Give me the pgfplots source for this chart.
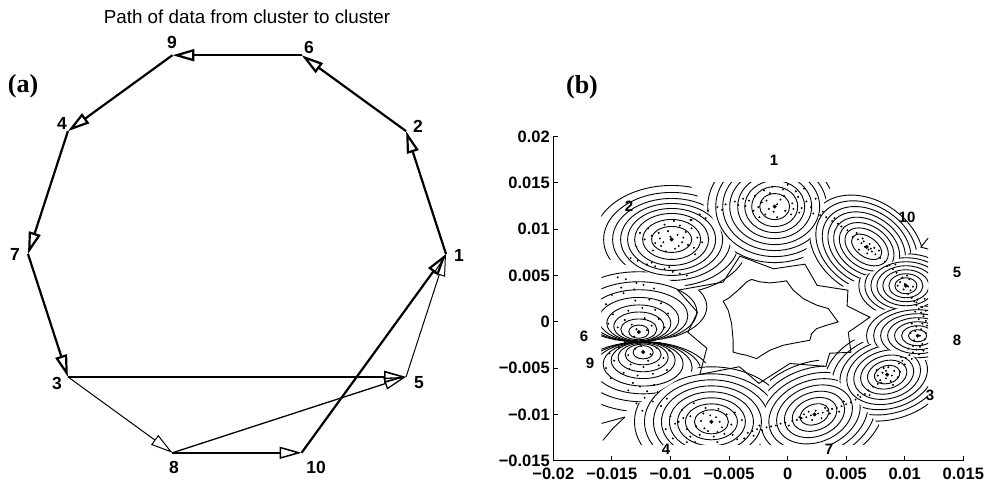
\documentclass[border=0pt]{standalone}
\usepackage{fontspec}
\setmainfont{Liberation Sans}
\newfontfamily\serifb{Liberation Serif}
\usepackage{pgfplots}
\pgfplotsset{compat=1.18}
\usetikzlibrary{arrows.meta}
\newcommand{\E}[5]{\draw[rotate around={#5:(axis cs:#1,#2)}] (axis cs:#1,#2) ellipse [x radius=#3pt, y radius=#4pt];}
\tikzset{arr/.style={-{Triangle[open,length=22pt,width=12pt]}}}
\begin{document}
\begin{tikzpicture}[x=1pt,y=1pt]
\path[use as bounding box] (0,0) rectangle (995,487);
\node[font=\fontsize{18.8}{21}\selectfont] at (247,470) {Path of data from cluster to cluster};
\node[font=\serifb\bfseries\fontsize{26}{29}\selectfont] at (23,401) {(a)};
\node[font=\serifb\bfseries\fontsize{26}{29}\selectfont] at (582,400) {(b)};
% ---------------- panel (a)
\begin{axis}[at={(28pt,24pt)}, anchor=south west, scale only axis, width=418pt, height=418pt,
  xmin=-1, xmax=1, ymin=-1, ymax=1, axis lines=none, clip=false]
\addplot[black, line width=2.2pt, arr] coordinates {(1,0) (0.809,0.5878)};
\addplot[black, line width=2.2pt, arr] coordinates {(0.809,0.5878) (0.309,0.9511)};
\addplot[black, line width=2.2pt, arr] coordinates {(0.309,0.9511) (-0.309,0.9511)};
\addplot[black, line width=2.2pt, arr] coordinates {(-0.309,0.9511) (-0.809,0.5878)};
\addplot[black, line width=2.2pt, arr] coordinates {(-0.809,0.5878) (-1,0)};
\addplot[black, line width=2.2pt, arr] coordinates {(-1,0) (-0.809,-0.5878)};
\addplot[black, line width=1.6pt, arr] coordinates {(-0.809,-0.5878) (0.809,-0.5878)};
\addplot[black, line width=1pt, arr] coordinates {(-0.809,-0.5878) (-0.309,-0.9511)};
\addplot[black, line width=1.5pt, arr] coordinates {(-0.309,-0.9511) (0.309,-0.9511)};
\addplot[black, line width=1.3pt, arr] coordinates {(-0.309,-0.9511) (0.809,-0.5878)};
\addplot[black, line width=2.2pt, arr] coordinates {(0.309,-0.9511) (1,0)};
\addplot[black, line width=1pt, arr] coordinates {(0.809,-0.5878) (1,0)};
\end{axis}
\begin{scope}[every node/.style={font=\bfseries\fontsize{17.5}{19}\selectfont}]
\node at (459,232) {1};
\node at (418,361) {2};
\node at (309,440) {6};
\node at (172,445) {9};
\node at (62,364) {4};
\node at (15,233) {7};
\node at (57,104) {3};
\node at (419,104) {5};
\node at (174,20) {8};
\node at (316,20) {10};
\end{scope}
% ---------------- panel (b)
\begin{axis}[at={(553.3pt,26.3pt)}, anchor=south west, scale only axis, width=410pt, height=324pt,
  xmin=-0.02, xmax=0.015, ymin=-0.015, ymax=0.02,
  axis x line*=bottom, axis y line*=left, tick align=inside, major tick length=5pt,
  axis line style={line width=1pt}, every tick/.style={black, line width=1pt},
  xtick={-0.02,-0.015,-0.01,-0.005,0,0.005,0.01,0.015},
  xticklabels={−0.02,−0.015,−0.01,−0.005,0,0.005,0.01,0.015},
  ytick={-0.015,-0.01,-0.005,0,0.005,0.01,0.015,0.02},
  yticklabels={−0.015,−0.01,−0.005,0,0.005,0.01,0.015,0.02},
  ticklabel style={font=\bfseries\fontsize{16.5}{18}\selectfont},
  xticklabel style={yshift=-4pt},
  scaled ticks=false]
\begin{scope}[line width=0.9pt]
\clip (axis cs:-0.0159,-0.0132) rectangle (axis cs:0.0120,0.0150);
% cluster 1
\begin{scope}\clip (axis cs:-0.00066,0.00039) -- (axis cs:-0.02454,0.04521) -- (axis cs:0.01466,0.05081) -- cycle;
\E{-0.0011}{0.01245}{15}{13}{0}\E{-0.0011}{0.01245}{23}{20}{0}\E{-0.0011}{0.01245}{30}{26}{0}\E{-0.0011}{0.01245}{37}{32}{0}
\E{-0.0011}{0.01245}{45}{38}{0}\E{-0.0011}{0.01245}{52}{44}{0}\E{-0.0011}{0.01245}{59}{50}{0}\E{-0.0011}{0.01245}{67}{56}{0}
\end{scope}
% cluster 10
\begin{scope}\clip (axis cs:-0.00066,0.00039) -- (axis cs:0.01466,0.05081) -- (axis cs:0.03746,0.02461) -- cycle;
\E{0.00675}{0.0081}{17}{10}{-35}\E{0.00675}{0.0081}{24}{16}{-35}\E{0.00675}{0.0081}{30}{21}{-35}\E{0.00675}{0.0081}{36}{26}{-35}
\E{0.00675}{0.0081}{42}{31}{-35}\E{0.00675}{0.0081}{48}{36}{-35}\E{0.00675}{0.0081}{55}{41}{-35}\E{0.00675}{0.0081}{62}{46}{-35}
\end{scope}
% cluster 5
\begin{scope}\clip (axis cs:-0.00066,0.00039) -- (axis cs:0.03746,0.02461) -- (axis cs:0.04186,0.00481) -- cycle;
\E{0.0101}{0.0039}{11}{8}{0}\E{0.0101}{0.0039}{17}{12}{0}\E{0.0101}{0.0039}{23}{16}{0}\E{0.0101}{0.0039}{29}{20}{0}
\E{0.0101}{0.0039}{35}{24}{0}\E{0.0101}{0.0039}{41}{28}{0}\E{0.0101}{0.0039}{47}{32}{0}
\end{scope}
% cluster 8
\begin{scope}\clip (axis cs:-0.00066,0.00039) -- (axis cs:0.04186,0.00481) -- (axis cs:0.04046,-0.01459) -- cycle;
\E{0.0111}{-0.0015}{9}{6}{0}\E{0.0111}{-0.0015}{16}{10}{0}\E{0.0111}{-0.0015}{23}{14}{0}\E{0.0111}{-0.0015}{30}{18}{0}
\E{0.0111}{-0.0015}{37}{22}{0}\E{0.0111}{-0.0015}{44}{26}{0}\E{0.0111}{-0.0015}{51}{30}{0}
\end{scope}
% cluster 3
\begin{scope}\clip (axis cs:-0.00066,0.00039) -- (axis cs:0.04046,-0.01459) -- (axis cs:0.02846,-0.03919) -- cycle;
\E{0.0085}{-0.0057}{13}{9}{15}\E{0.0085}{-0.0057}{20}{14}{15}\E{0.0085}{-0.0057}{27}{19}{15}\E{0.0085}{-0.0057}{34}{24}{15}
\E{0.0085}{-0.0057}{41}{29}{15}\E{0.0085}{-0.0057}{48}{34}{15}\E{0.0085}{-0.0057}{56}{39}{15}\E{0.0085}{-0.0057}{64}{45}{15}
\end{scope}
% cluster 7
\begin{scope}\clip (axis cs:-0.00066,0.00039) -- (axis cs:0.02846,-0.03919) -- (axis cs:-0.00734,-0.05299) -- cycle;
\E{0.0023}{-0.0100}{15}{10}{20}\E{0.0023}{-0.0100}{23}{16}{20}\E{0.0023}{-0.0100}{31}{22}{20}\E{0.0023}{-0.0100}{39}{28}{20}
\E{0.0023}{-0.0100}{47}{34}{20}\E{0.0023}{-0.0100}{55}{40}{20}\E{0.0023}{-0.0100}{63}{46}{20}\E{0.0023}{-0.0100}{72}{52}{20}
\end{scope}
% cluster 4
\begin{scope}\clip (axis cs:-0.00066,0.00039) -- (axis cs:-0.00734,-0.05299) -- (axis cs:-0.03734,-0.02759) -- cycle;
\E{-0.0065}{-0.0108}{17}{12}{0}\E{-0.0065}{-0.0108}{26}{18}{0}\E{-0.0065}{-0.0108}{34}{24}{0}\E{-0.0065}{-0.0108}{42}{30}{0}
\E{-0.0065}{-0.0108}{50}{36}{0}\E{-0.0065}{-0.0108}{58}{42}{0}\E{-0.0065}{-0.0108}{67}{48}{0}\E{-0.0065}{-0.0108}{77}{55}{0}
\end{scope}
% cluster 9
\begin{scope}\clip (axis cs:-0.00066,0.00039) -- (axis cs:-0.03734,-0.02759) -- (axis cs:-0.04,-0.00218) -- (axis cs:-0.0121,-0.00218) -- cycle;
\E{-0.01233}{-0.00329}{10}{6.6}{0}\E{-0.01233}{-0.00352}{18}{10.4}{0}\E{-0.01233}{-0.00384}{25}{14.4}{0}\E{-0.01233}{-0.00416}{32}{18.2}{0}
\E{-0.01233}{-0.00456}{40}{22}{0}\E{-0.01233}{-0.00497}{49}{26}{0}\E{-0.01233}{-0.00540}{58}{30}{0}\E{-0.01233}{-0.00594}{68}{35}{0}
\end{scope}
% cluster 6
\begin{scope}\clip (axis cs:-0.00066,0.00039) -- (axis cs:-0.0121,-0.00218) -- (axis cs:-0.04,-0.00218) -- (axis cs:-0.04094,0.01801) -- cycle;
\E{-0.0127}{-0.00106}{10}{6.6}{0}\E{-0.0127}{-0.00081}{18}{10.4}{0}\E{-0.0127}{-0.00049}{25}{14.4}{0}\E{-0.0127}{-0.00014}{32}{18.2}{0}
\E{-0.0127}{0.00026}{40}{22}{0}\E{-0.0127}{0.00066}{49}{26}{0}\E{-0.0127}{0.00109}{58}{30}{0}\E{-0.0127}{0.00163}{68}{35}{0}
\end{scope}
% cluster 2
\begin{scope}\clip (axis cs:-0.00066,0.00039) -- (axis cs:-0.04094,0.01801) -- (axis cs:-0.02454,0.04521) -- cycle;
\E{-0.0099}{0.0089}{20}{13}{0}\E{-0.0099}{0.0089}{29}{20}{0}\E{-0.0099}{0.0089}{37}{26}{0}\E{-0.0099}{0.0089}{44}{31}{0}
\E{-0.0099}{0.0089}{51}{36}{0}\E{-0.0099}{0.0089}{59}{41}{0}\E{-0.0099}{0.0089}{68}{47}{0}\E{-0.0099}{0.0089}{78}{54}{0}
\end{scope}
\end{scope}
% central contours
\addplot[black, line width=0.9pt, mark=none] coordinates {
(-0.00550,0.00223) (-0.00507,0.00252) (-0.00422,0.00342) (-0.00350,0.00432) (-0.00307,0.00458)
(-0.00237,0.00432) (-0.00151,0.00421) (-0.00066,0.00432) (-0.00009,0.00443) (0.00048,0.00342)
(0.00133,0.00252) (0.00248,0.00180) (0.00347,0.00144) (0.00389,0.00071) (0.00432,-0.00001)
(0.00333,-0.00037) (0.00248,-0.00073) (0.00205,-0.00127) (0.00190,-0.00199) (0.00105,-0.00218)
(-0.00038,-0.00253) (-0.00151,-0.00307) (-0.00222,-0.00361) (-0.00265,-0.00397) (-0.00350,-0.00361)
(-0.00422,-0.00343) (-0.00465,-0.00326) (-0.00465,-0.00199) (-0.00478,-0.00018) (-0.00507,0.00126)
(-0.00550,0.00223)};
\addplot[black, line width=0.9pt, mark=none] coordinates {
(-0.00407,0.00710) (-0.00120,0.00573) (0.00148,0.00623) (0.00252,0.00394) (0.00515,0.00342)
(0.00508,0.00172) (0.00703,0.00050) (0.00518,-0.00113) (0.00541,-0.00329) (0.00359,-0.00339)
(0.00327,-0.00481) (0.00020,-0.00450) (-0.00245,-0.00665) (-0.00411,-0.00485) (-0.00749,-0.00567)
(-0.00690,-0.00284) (-0.00851,-0.00113) (-0.00769,0.00104) (-0.00937,0.00342) (-0.00551,0.00429)
(-0.00407,0.00710)};
\addplot[black, line width=0.9pt, mark=none] coordinates {(-0.01588,-0.01097) (-0.01389,-0.01029)};
\addplot[black, line width=0.9pt, mark=none] coordinates {(-0.01577,-0.01281) (-0.01492,-0.01152) (-0.01389,-0.01029)};
\addplot[black, line width=0.9pt, mark=none] coordinates {(0.0120,0.00905) (0.01138,0.00807) (0.0120,0.00786)};
% scattered data
\addplot[only marks, mark=*, mark size=0.75pt, black] coordinates {
(-2.8e-3,13.6e-3) (-2.2e-3,12.9e-3) (-1.9e-3,11.6e-3) (-1.5e-3,13.9e-3) (-0.6e-3,13.2e-3) (-0.2e-3,12.0e-3)
(0.4e-3,12.8e-3) (0.9e-3,13.5e-3) (1.2e-3,12.3e-3) (-0.9e-3,11.3e-3) (-1.6e-3,12.2e-3) (-2.5e-3,12.4e-3)
(0.3e-3,11.6e-3) (1.6e-3,13.0e-3) (-0.4e-3,14.3e-3) (-1.3e-3,14.6e-3) (2.0e-3,12.4e-3) (-2.9e-3,12.0e-3)
(0.7e-3,14.1e-3) (-3.3e-3,13.1e-3)
(-1.8e-3,13.1e-3) (-0.9e-3,12.7e-3) (-0.3e-3,13.6e-3) (0.5e-3,12.2e-3) (-2.4e-3,11.3e-3) (-1.2e-3,11.9e-3)
(1.0e-3,11.8e-3) (-3.6e-3,12.5e-3) (0.0e-3,14.8e-3) (-2.0e-3,14.2e-3) (1.4e-3,14.4e-3) (2.4e-3,13.3e-3)
(2.2e-3,11.7e-3) (2.8e-3,11.5e-3) (3.3e-3,11.3e-3) (3.8e-3,10.9e-3) (4.3e-3,10.6e-3) (4.6e-3,10.3e-3)
(5.1e-3,9.9e-3) (3.0e-3,11.9e-3) (4.0e-3,11.2e-3)
(-8.2e-3,11.0e-3) (-7.5e-3,11.6e-3) (-6.8e-3,12.0e-3) (-6.0e-3,12.4e-3) (-5.3e-3,12.7e-3) (-4.5e-3,13.0e-3)
(-3.8e-3,13.3e-3) (-7.0e-3,11.2e-3) (-5.6e-3,12.1e-3) (-4.2e-3,12.6e-3)
(-11.6e-3,9.3e-3) (-11.0e-3,9.6e-3) (-10.6e-3,8.6e-3) (-10.2e-3,9.8e-3) (-9.4e-3,9.4e-3) (-9.0e-3,8.6e-3)
(-8.5e-3,8.3e-3) (-8.0e-3,8.0e-3) (-8.7e-3,9.7e-3) (-10.8e-3,8.2e-3) (-9.6e-3,7.9e-3) (-11.3e-3,8.5e-3)
(-9.2e-3,10.4e-3) (-10.5e-3,10.5e-3) (-8.2e-3,10.1e-3) (-7.7e-3,9.1e-3) (-12.2e-3,8.9e-3) (-11.9e-3,10.1e-3)
(-10.9e-3,9.0e-3) (-10.0e-3,9.2e-3) (-9.3e-3,8.2e-3) (-8.9e-3,9.1e-3) (-10.4e-3,7.6e-3) (-11.5e-3,7.7e-3)
(-12.6e-3,9.6e-3) (-9.7e-3,10.9e-3) (-8.3e-3,11.0e-3) (-7.3e-3,8.6e-3) (-7.9e-3,7.3e-3) (-12.9e-3,8.1e-3)
(-12.8e-3,6.6e-3) (-12.0e-3,6.2e-3) (-11.3e-3,6.0e-3) (-10.5e-3,5.7e-3) (-9.8e-3,5.4e-3) (-9.2e-3,5.2e-3)
(-13.4e-3,6.9e-3) (-11.6e-3,6.4e-3) (-10.1e-3,5.9e-3) (-8.6e-3,5.0e-3) (-14.5e-3,4.8e-3) (-13.8e-3,4.6e-3)
(-12.9e-3,4.2e-3) (-14.2e-3,3.7e-3) (-13.1e-3,3.5e-3) (-12.3e-3,4.0e-3) (-11.4e-3,3.6e-3)
(-14.5e-3,-0.6e-3) (-13.9e-3,0.2e-3) (-13.3e-3,-0.3e-3) (-12.2e-3,0.4e-3) (-11.6e-3,-0.4e-3) (-11.0e-3,0.3e-3)
(-14.9e-3,0.8e-3) (-13.6e-3,1.2e-3) (-12.4e-3,1.5e-3) (-11.3e-3,1.3e-3) (-10.5e-3,-0.6e-3) (-15.3e-3,-0.2e-3)
(-12.9e-3,-0.8e-3) (-12.0e-3,-0.9e-3) (-14.1e-3,-1.3e-3) (-10.2e-3,0.9e-3) (-15.5e-3,1.9e-3) (-13.0e-3,2.3e-3)
(-11.8e-3,2.4e-3) (-10.8e-3,2.0e-3)
(-14.7e-3,-1.9e-3) (-13.1e-3,-1.6e-3) (-11.4e-3,-1.7e-3) (-12.6e-3,-2.4e-3) (-13.9e-3,-2.2e-3) (-10.9e-3,-2.3e-3)
(-15.0e-3,2.9e-3) (-14.0e-3,3.1e-3) (-13.5e-3,-5.1e-3) (-11.9e-3,-4.2e-3) (-15.5e-3,-5.0e-3) (-15.1e-3,-6.1e-3)
(-14.4e-3,-2.8e-3) (-13.6e-3,-3.6e-3) (-13.0e-3,-2.9e-3) (-11.7e-3,-3.5e-3) (-11.2e-3,-2.8e-3) (-10.6e-3,-3.9e-3)
(-14.8e-3,-4.2e-3) (-13.4e-3,-4.6e-3) (-12.3e-3,-4.9e-3) (-11.0e-3,-4.7e-3) (-10.1e-3,-3.1e-3) (-15.2e-3,-3.4e-3)
(-12.5e-3,-2.6e-3) (-14.0e-3,-5.5e-3) (-12.8e-3,-5.8e-3) (-11.5e-3,-5.6e-3) (-10.3e-3,-5.2e-3)
(-13.2e-3,-6.6e-3) (-12.6e-3,-7.0e-3) (-12.0e-3,-7.5e-3) (-11.4e-3,-6.8e-3) (-13.6e-3,-7.4e-3) (-12.2e-3,-8.2e-3)
(-11.5e-3,-8.6e-3) (-10.8e-3,-9.1e-3) (-12.9e-3,-8.8e-3) (-12.4e-3,-9.6e-3) (-11.1e-3,-7.6e-3) (-10.3e-3,-8.3e-3)
(-10.0e-3,-10.2e-3) (-9.6e-3,-11.0e-3) (-10.4e-3,-11.6e-3) (-9.8e-3,-12.6e-3) (-8.6e-3,-13.0e-3)
(-8.3e-3,-10.2e-3) (-7.8e-3,-11.3e-3) (-7.2e-3,-9.9e-3) (-6.8e-3,-11.8e-3) (-6.1e-3,-10.3e-3) (-5.6e-3,-11.4e-3)
(-5.2e-3,-10.0e-3) (-4.8e-3,-11.1e-3) (-7.5e-3,-12.2e-3) (-6.3e-3,-12.4e-3) (-5.4e-3,-12.1e-3) (-8.6e-3,-11.6e-3)
(-7.0e-3,-9.3e-3) (-5.9e-3,-9.4e-3) (-4.5e-3,-9.8e-3) (-9.3e-3,-10.8e-3) (-9.0e-3,-9.5e-3) (-8.0e-3,-8.8e-3)
(-7.9e-3,-13.0e-3) (-6.0e-3,-13.0e-3) (-4.3e-3,-12.7e-3) (-3.9e-3,-10.6e-3)
(-7.4e-3,-10.7e-3) (-6.6e-3,-10.1e-3) (-5.8e-3,-10.8e-3) (-7.1e-3,-11.5e-3) (-6.0e-3,-11.9e-3) (-8.9e-3,-10.4e-3)
(-4.7e-3,-12.2e-3) (-8.3e-3,-12.4e-3)
(-3.4e-3,-12.0e-3) (-3.0e-3,-11.8e-3) (-2.6e-3,-11.6e-3) (-2.2e-3,-11.7e-3) (-1.8e-3,-11.4e-3) (-1.4e-3,-11.3e-3)
(-1.0e-3,-11.2e-3) (-0.6e-3,-11.0e-3) (-0.2e-3,-10.9e-3) (-2.9e-3,-12.3e-3) (-2.4e-3,-11.2e-3) (-3.7e-3,-12.6e-3)
(0.4e-3,-10.7e-3) (0.8e-3,-10.6e-3) (1.2e-3,-10.4e-3) (1.6e-3,-10.3e-3) (2.0e-3,-10.1e-3) (2.6e-3,-9.9e-3)
(3.0e-3,-9.8e-3) (3.4e-3,-9.6e-3) (3.8e-3,-9.4e-3) (4.2e-3,-9.3e-3) (4.6e-3,-9.1e-3) (5.0e-3,-8.9e-3)
(5.4e-3,-8.7e-3) (1.8e-3,-9.7e-3) (2.9e-3,-10.4e-3) (1.4e-3,-10.0e-3) (3.2e-3,-9.3e-3) (2.1e-3,-10.6e-3)
(0.1e-3,-11.2e-3) (4.4e-3,-9.7e-3)
(1.0e-3,-10.3e-3) (2.4e-3,-9.6e-3) (3.6e-3,-9.9e-3) (4.8e-3,-8.6e-3)
(5.8e-3,-8.4e-3) (6.2e-3,-8.1e-3) (6.6e-3,-7.8e-3) (6.9e-3,-7.4e-3) (7.3e-3,-7.0e-3) (7.7e-3,-6.7e-3)
(6.0e-3,-7.9e-3) (7.0e-3,-7.9e-3)
(7.6e-3,-5.2e-3) (7.9e-3,-6.3e-3) (8.2e-3,-5.0e-3) (8.8e-3,-6.4e-3) (9.1e-3,-5.3e-3) (9.4e-3,-6.0e-3)
(7.7e-3,-5.8e-3) (8.6e-3,-4.9e-3) (9.0e-3,-6.8e-3) (8.0e-3,-6.6e-3) (9.6e-3,-5.4e-3) (8.4e-3,-6.1e-3)
(8.1e-3,-5.5e-3) (8.9e-3,-5.8e-3) (8.4e-3,-5.3e-3)
(9.5e-3,-4.5e-3) (9.8e-3,-4.2e-3) (10.1e-3,-3.9e-3) (10.4e-3,-3.6e-3) (10.7e-3,-3.3e-3) (11.0e-3,-3.0e-3)
(11.3e-3,-2.7e-3) (10.0e-3,-4.6e-3) (10.6e-3,-4.0e-3) (11.2e-3,-3.5e-3) (9.7e-3,-3.8e-3) (11.6e-3,-3.1e-3)
(10.5e-3,-1.2e-3) (10.8e-3,-2.0e-3) (11.4e-3,-0.8e-3) (11.7e-3,-1.9e-3) (11.0e-3,-0.5e-3) (11.5e-3,-2.4e-3)
(10.6e-3,-0.2e-3) (11.8e-3,-1.2e-3) (11.2e-3,0.3e-3) (11.6e-3,0.8e-3) (10.9e-3,1.1e-3) (11.4e-3,1.6e-3)
(11.0e-3,2.1e-3) (11.7e-3,2.5e-3) (10.7e-3,-2.6e-3) (11.9e-3,-0.4e-3)
(10.9e-3,-1.0e-3) (11.3e-3,-1.5e-3) (11.5e-3,-0.2e-3) (10.3e-3,-2.9e-3) (11.8e-3,0.1e-3)
(10.3e-3,3.0e-3) (10.6e-3,2.6e-3) (10.8e-3,2.2e-3) (11.0e-3,1.8e-3) (11.2e-3,1.4e-3) (11.4e-3,1.0e-3)
(11.6e-3,0.6e-3) (10.5e-3,3.4e-3) (11.1e-3,2.4e-3) (11.5e-3,1.6e-3) (11.8e-3,1.2e-3)
(9.6e-3,4.3e-3) (10.4e-3,4.6e-3) (9.9e-3,3.5e-3) (10.7e-3,3.8e-3) (9.4e-3,3.9e-3) (10.2e-3,5.0e-3)
(10.0e-3,4.1e-3) (10.3e-3,3.8e-3) (9.8e-3,4.8e-3)
(7.9e-3,6.9e-3) (8.3e-3,6.5e-3) (8.7e-3,6.1e-3) (9.0e-3,5.7e-3) (9.3e-3,5.3e-3) (8.5e-3,6.0e-3) (9.2e-3,6.2e-3)
(5.6e-3,9.2e-3) (6.0e-3,8.9e-3) (6.3e-3,8.5e-3) (6.9e-3,7.8e-3) (7.2e-3,7.6e-3) (7.5e-3,7.3e-3)
(6.5e-3,8.7e-3) (7.0e-3,8.4e-3) (6.1e-3,7.8e-3) (7.4e-3,8.0e-3) (5.9e-3,9.6e-3) (6.8e-3,7.4e-3) (7.8e-3,7.7e-3)
(6.6e-3,8.1e-3) (7.1e-3,7.9e-3) (6.4e-3,9.0e-3)
};
% cluster centres
\addplot[only marks, mark=*, mark size=1.8pt, black] coordinates {
(-1.1e-3,12.45e-3) (-9.9e-3,8.9e-3) (6.75e-3,8.1e-3) (10.1e-3,3.9e-3) (11.1e-3,-1.5e-3)
(8.5e-3,-5.7e-3) (2.3e-3,-10.0e-3) (-6.5e-3,-10.8e-3) (-12.33e-3,-3.26e-3) (-12.7e-3,-1.1e-3)};
\end{axis}
\begin{scope}[every node/.style={font=\bfseries\fontsize{15}{17}\selectfont}]
\node at (774,327) {1};
\node at (629,281) {2};
\node at (907,270) {10};
\node at (957,215) {5};
\node at (584,151) {6};
\node at (957,147) {8};
\node at (590,124) {9};
\node at (930,92) {3};
\node at (666,38) {4};
\node at (829,38) {7};
\end{scope}
\end{tikzpicture}
\end{document}
